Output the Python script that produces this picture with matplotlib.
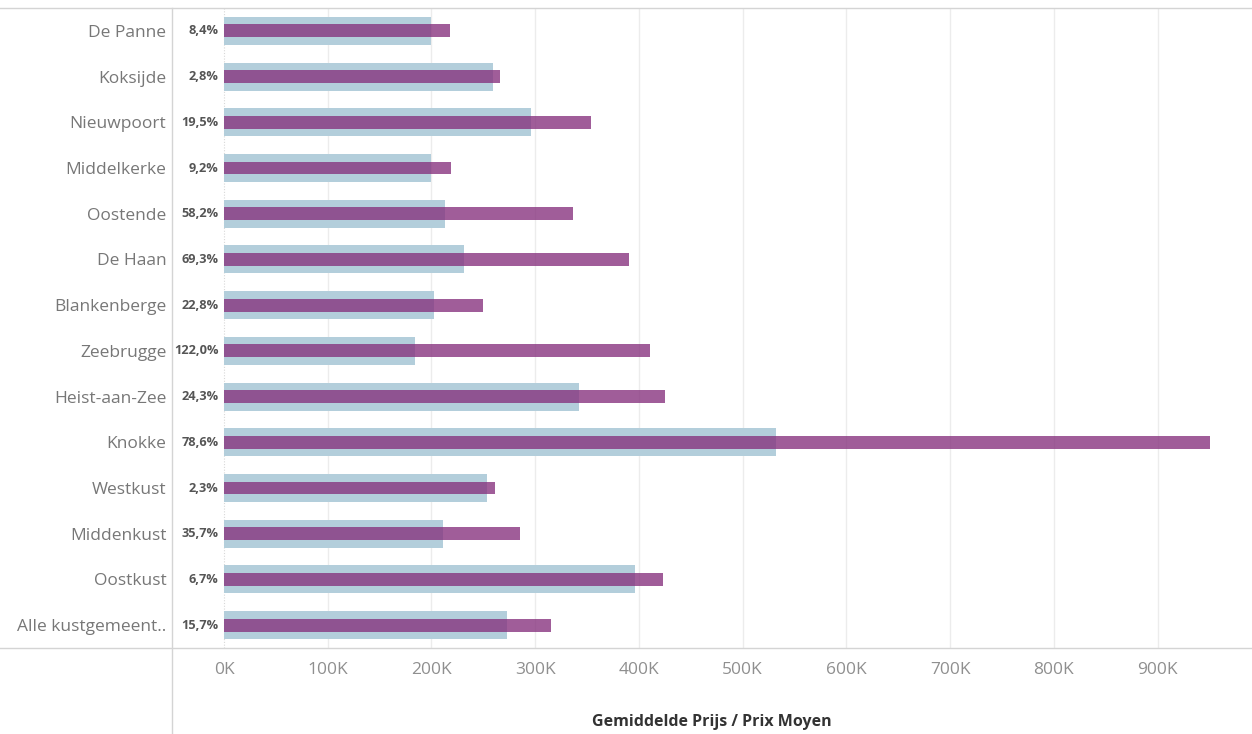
import matplotlib
matplotlib.use("Agg")
import matplotlib.pyplot as plt
from matplotlib.lines import Line2D
from matplotlib.ticker import FuncFormatter

# Gemeenten / regio's (top to bottom)
gemeenten = ["De Panne", "Koksijde", "Nieuwpoort", "Middelkerke", "Oostende",
             "De Haan", "Blankenberge", "Zeebrugge", "Heist-aan-Zee", "Knokke",
             "Westkust", "Middenkust", "Oostkust", "Alle kustgemeent.."]

# average price, earlier period (blue) and later period (purple), in euro
prijs_oud = [200000, 259000, 296000, 200000, 212800, 231000, 202000,
             184500, 342000, 532000, 254000, 210800, 396500, 272700]
prijs_nieuw = [217600, 266000, 353500, 218600, 336600, 390700, 249500,
               410500, 425500, 950500, 261000, 285500, 423500, 315300]
stijging = ["8,4%", "2,8%", "19,5%", "9,2%", "58,2%", "69,3%", "22,8%",
            "122,0%", "24,3%", "78,6%", "2,3%", "35,7%", "6,7%", "15,7%"]

plt.rcParams['font.family'] = ['Open Sans', 'DejaVu Sans']

W, H = 1252, 734
fig = plt.figure(figsize=(W / 100, H / 100), dpi=100)
ax = fig.add_axes([172 / W, (H - 648) / H, (W - 172) / W, 640 / H])

ypos = list(range(len(gemeenten)))
ax.barh(ypos, prijs_oud, height=0.61, color='#b3cedb', zorder=2)
ax.barh(ypos, prijs_nieuw, height=0.28, color='#86307d', alpha=0.78, zorder=3)

for y, s in zip(ypos, stijging):
    ax.annotate(s, xy=(0, y), xytext=(-4, 0), textcoords='offset points',
                ha='right', va='center', fontsize=9.2, fontweight='bold',
                color='#555555')

ax.set_xlim(-50150, 991000)
ax.set_ylim(len(gemeenten) - 0.5, -0.5)

ax.set_yticks(ypos)
ax.set_yticklabels(gemeenten, fontsize=12.5, color='#777777')
ax.set_xticks(range(0, 900001, 100000))
ax.xaxis.set_major_formatter(FuncFormatter(lambda v, p: f"{int(v / 1000)}K"))
ax.tick_params(axis='x', labelsize=12.5, colors='#8f8f8f', length=0, pad=10)
ax.tick_params(axis='y', length=0, pad=4)

for v in range(100000, 900001, 100000):
    ax.axvline(v, color='#ececec', lw=1, zorder=1)
ax.axvline(0, color='#d8d8d8', lw=0.8, ls=(0, (1, 1.5)), zorder=1)

for sp in ax.spines.values():
    sp.set_visible(False)

ax.set_xlabel("Gemiddelde Prijs / Prix Moyen", fontsize=11.5, fontweight='bold',
              color='#333333', labelpad=26)

# frame lines across the whole figure
fig.add_artist(Line2D([0, 1], [(H - 8) / H] * 2, color='#d4d4d4', lw=1))
fig.add_artist(Line2D([0, 1], [(H - 648) / H] * 2, color='#d4d4d4', lw=1))
fig.add_artist(Line2D([172 / W] * 2, [0, (H - 8) / H], color='#d4d4d4', lw=1))

fig.savefig("out.png", dpi=100, facecolor='white')
